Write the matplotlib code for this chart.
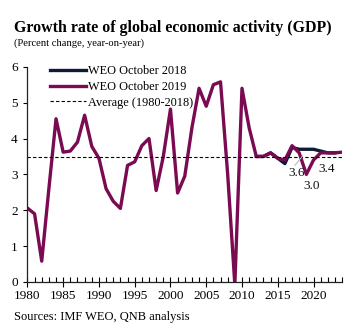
import matplotlib.pyplot as plt
from matplotlib.ticker import MultipleLocator

plt.rcParams['font.family'] = ['Liberation Serif', 'DejaVu Serif']

years = list(range(1980, 2025))
weo_2019 = [2.06, 1.9, 0.58, 2.6, 4.55, 3.62, 3.65, 3.9, 4.65, 3.78, 3.45,
            2.6, 2.25, 2.05, 3.25, 3.35, 3.8, 4.0, 2.55, 3.5, 4.82,
            2.48, 2.95, 4.3, 5.4, 4.9, 5.5, 5.58, 3.0, -0.07, 5.4,
            4.3, 3.5, 3.5, 3.6, 3.45, 3.4, 3.8, 3.6, 3.0, 3.4,
            3.6, 3.6, 3.6, 3.62]
years_2018 = list(range(2012, 2024))
weo_2018 = [3.5, 3.5, 3.6, 3.45, 3.3, 3.75, 3.7, 3.7, 3.7, 3.65, 3.6, 3.6]
average = 3.49
labels = [(2018, 3.6, '3.6'), (2019, 3.0, '3.0'), (2020, 3.4, '3.4')]
label_pos = [(2017.6, 3.05), (2019.7, 2.68), (2021.8, 3.14)]

purple = '#7a0a52'
navy = '#0d1b36'

fig = plt.figure(figsize=(3.56, 3.29), dpi=100)
ax = fig.add_axes([0.077, 0.143, 0.884, 0.654])

ax.plot(years_2018, weo_2018, color=navy, lw=2.4, label='WEO October 2018',
        solid_joinstyle='round')
ax.plot(years, weo_2019, color=purple, lw=2.4, label='WEO October 2019',
        solid_joinstyle='round')
ax.axhline(average, color='black', lw=0.8, ls=(0, (3, 2)),
           label='Average (1980-2018)')

for (yr, val, txt), (tx, ty) in zip(labels, label_pos):
    ax.text(tx, ty, txt, fontsize=9.5, ha='center', va='center', color='#111111')
ax.plot([2017.4, 2018.5], [3.25, 3.52], color='#bbbbbb', lw=0.8)

ax.set_xlim(1980, 2024)
ax.set_ylim(0, 6)
ax.xaxis.set_major_locator(MultipleLocator(5))
ax.xaxis.set_minor_locator(MultipleLocator(1))
ax.yaxis.set_major_locator(MultipleLocator(1))
ax.tick_params(axis='x', which='major', direction='inout', length=7, width=0.8,
               labelsize=9.5, pad=2)
ax.tick_params(axis='x', which='minor', direction='in', length=3.5, width=0.8)
ax.tick_params(axis='y', which='major', direction='out', length=3, width=0.8,
               labelsize=9.5, pad=4)
for s in ['top', 'right']:
    ax.spines[s].set_visible(False)
for s in ['left', 'bottom']:
    ax.spines[s].set_color('#222222')
    ax.spines[s].set_linewidth(0.9)

leg = ax.legend(loc='upper left', bbox_to_anchor=(0.055, 1.03), frameon=False,
                fontsize=8.8, handlelength=3.0, handletextpad=0.15,
                labelspacing=0.3, borderaxespad=0)

fig.text(0.04, 0.902, 'Growth rate of global economic activity (GDP)',
         fontsize=11.4, fontweight='bold', va='baseline')
fig.text(0.04, 0.862, '(Percent change, year-on-year)', fontsize=7.6,
         va='baseline')
fig.text(0.04, 0.028, 'Sources: IMF WEO, QNB analysis', fontsize=9,
         va='baseline')

fig.savefig('out.png', dpi=100)
